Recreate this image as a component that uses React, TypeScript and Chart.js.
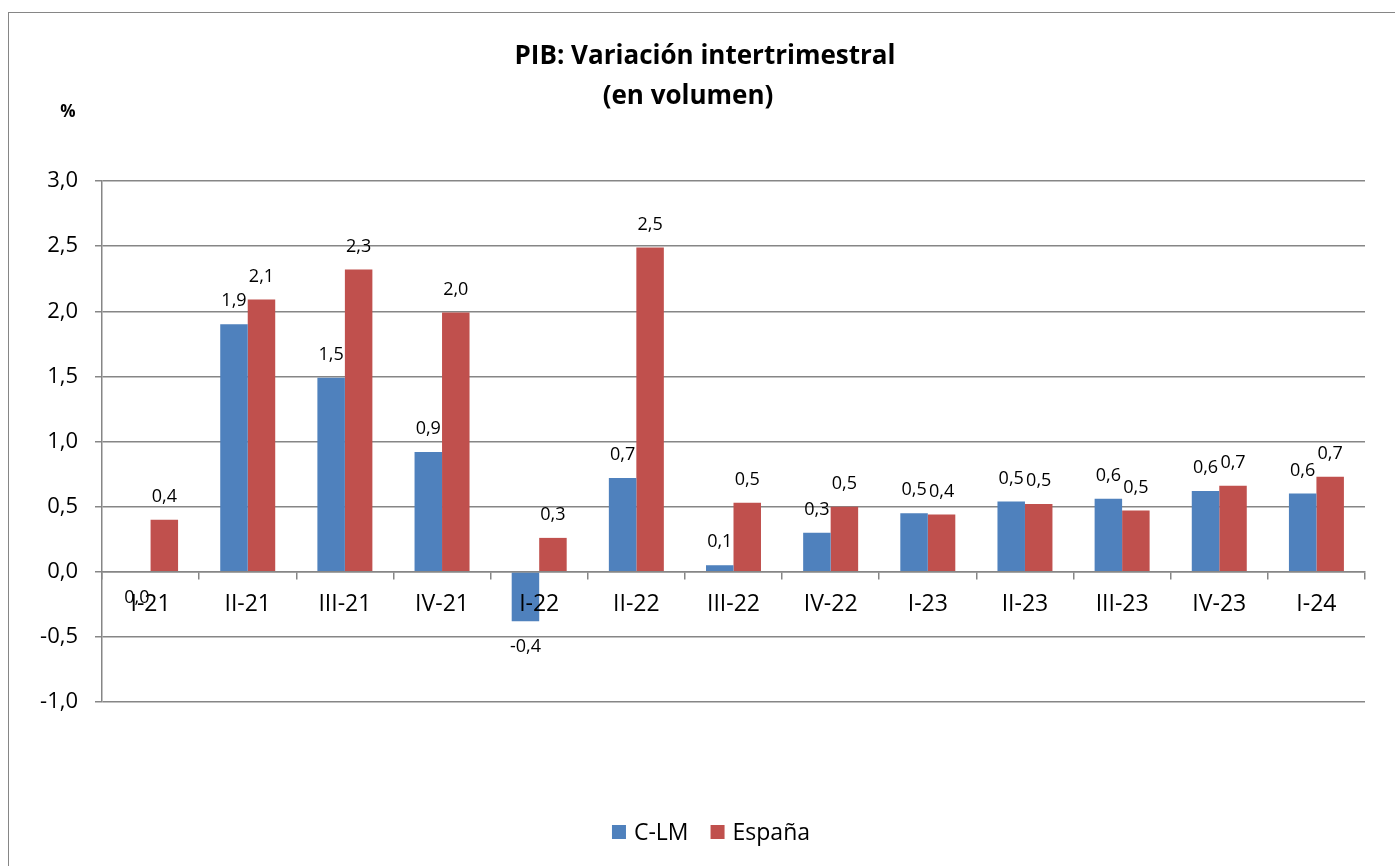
import React, { useEffect, useRef } from "react";
import { Chart, registerables } from "chart.js";

Chart.register(...registerables);

const categories = ["I-21", "II-21", "III-21", "IV-21", "I-22", "II-22", "III-22", "IV-22", "I-23", "II-23", "III-23", "IV-23", "I-24"];
const clmValues = [0.0, 1.9, 1.49, 0.92, -0.38, 0.72, 0.05, 0.3, 0.45, 0.54, 0.56, 0.62, 0.6];
const espanaValues = [0.4, 2.09, 2.32, 1.99, 0.26, 2.49, 0.53, 0.5, 0.44, 0.52, 0.47, 0.66, 0.73];
const seriesNames = ["C-LM", "España"];
const seriesColors = ["#4F81BD", "#C0504D"];
const titleLines = ["PIB: Variación intertrimestral", "(en volumen)"];
const unitLabel = "%";
const yMin = -1;
const yMax = 3;
const yStep = 0.5;

const FONT = "'Open Sans', sans-serif";
const GRID = "#868686";

const fmt = (v: number) => (Math.round(v * 10) / 10).toFixed(1).replace(".", ",");

const dataLabelPlugin = {
  id: "dataLabels",
  afterDraw(chart: any) {
    const ctx = chart.ctx;
    ctx.save();
    ctx.font = `18px ${FONT}`;
    ctx.fillStyle = "#000";
    ctx.textAlign = "center";
    ctx.textBaseline = "middle";
    chart.data.datasets.forEach((ds: any, i: number) => {
      const meta = chart.getDatasetMeta(i);
      meta.data.forEach((el: any, j: number) => {
        const v = ds.data[j] as number;
        const p = el.getProps(["x", "y", "base"], true);
        const ty = v > 0 ? p.y - 23 : Math.max(p.y, p.base) + 26;
        ctx.fillText(fmt(v), p.x, ty);
      });
    });
    ctx.restore();
  },
};

const decorPlugin = {
  id: "decor",
  afterDraw(chart: any) {
    const ctx = chart.ctx;
    ctx.save();
    ctx.fillStyle = "#000";
    // title
    ctx.font = `bold 26px ${FONT}`;
    ctx.textAlign = "center";
    ctx.textBaseline = "alphabetic";
    ctx.fillText(titleLines[0], 705, 64);
    ctx.fillText(titleLines[1], 688, 104);
    // unit
    ctx.font = `bold 17px ${FONT}`;
    ctx.textBaseline = "middle";
    ctx.fillText(unitLabel, 68, 112);
    // legend
    ctx.font = `23px ${FONT}`;
    ctx.textAlign = "left";
    const box = 14;
    const gapText = 8;
    const gapItem = 22;
    const widths = seriesNames.map((n) => box + gapText + ctx.measureText(n).width);
    const total = widths.reduce((a, b) => a + b, 0) + gapItem * (seriesNames.length - 1);
    let x = 711 - total / 2;
    const cy = 832;
    seriesNames.forEach((n, i) => {
      ctx.fillStyle = seriesColors[i];
      ctx.fillRect(x, cy - box / 2, box, box);
      ctx.fillStyle = "#000";
      ctx.fillText(n, x + box + gapText, cy + 1);
      x += widths[i] + gapItem;
    });
    ctx.restore();
  },
};

export default function App() {
  const canvasRef = useRef<HTMLCanvasElement | null>(null);

  useEffect(() => {
    const canvas = canvasRef.current;
    if (!canvas) return;
    const chart = new Chart(canvas, {
      type: "bar",
      data: {
        labels: categories,
        datasets: [
          { label: seriesNames[0], data: clmValues, backgroundColor: seriesColors[0], borderWidth: 0 },
          { label: seriesNames[1], data: espanaValues, backgroundColor: seriesColors[1], borderWidth: 0 },
        ],
      },
      options: {
        animation: false,
        responsive: false,
        maintainAspectRatio: false,
        layout: { padding: { left: 8, right: 30, top: 181, bottom: 164 } },
        datasets: { bar: { categoryPercentage: 0.566, barPercentage: 1.0 } },
        plugins: {
          legend: { display: false },
          title: { display: false },
          tooltip: { enabled: false },
        },
        scales: {
          x: {
            type: "category",
            position: { y: 0 } as any,
            offset: true,
            grid: { offset: true, drawOnChartArea: false, drawTicks: true, tickLength: 7, color: GRID, lineWidth: 1.5, z: 1 },
            border: { display: true, color: GRID, width: 1.5, z: 1 },
            ticks: { font: { family: FONT, size: 23 }, color: "#000", padding: 12, maxRotation: 0, autoSkip: false, z: 1 },
          },
          y: {
            min: yMin,
            max: yMax,
            afterFit(scale: any) {
              scale.width = 94;
            },
            grid: { color: GRID, lineWidth: 1.5, tickLength: 7, drawTicks: true },
            border: { display: true, color: GRID, width: 1.5 },
            ticks: {
              stepSize: yStep,
              font: { family: FONT, size: 22 },
              color: "#000",
              padding: 17,
              callback: (v: any) => fmt(Number(v)),
            },
          },
        },
      },
      plugins: [dataLabelPlugin, decorPlugin],
    });
    return () => chart.destroy();
  }, []);

  return (
    <div style={{ position: "fixed", left: 0, top: 0, width: "100vw", height: "100vh", overflow: "hidden", background: "#fff" }}>
      <div
        style={{
          position: "absolute",
          left: 8,
          top: 12,
          width: 1500,
          height: 1000,
          border: `1.5px solid ${GRID}`,
          boxSizing: "border-box",
        }}
      />
      <canvas ref={canvasRef} width={1395} height={866} style={{ position: "absolute", left: 0, top: 0 }} />
    </div>
  );
}
